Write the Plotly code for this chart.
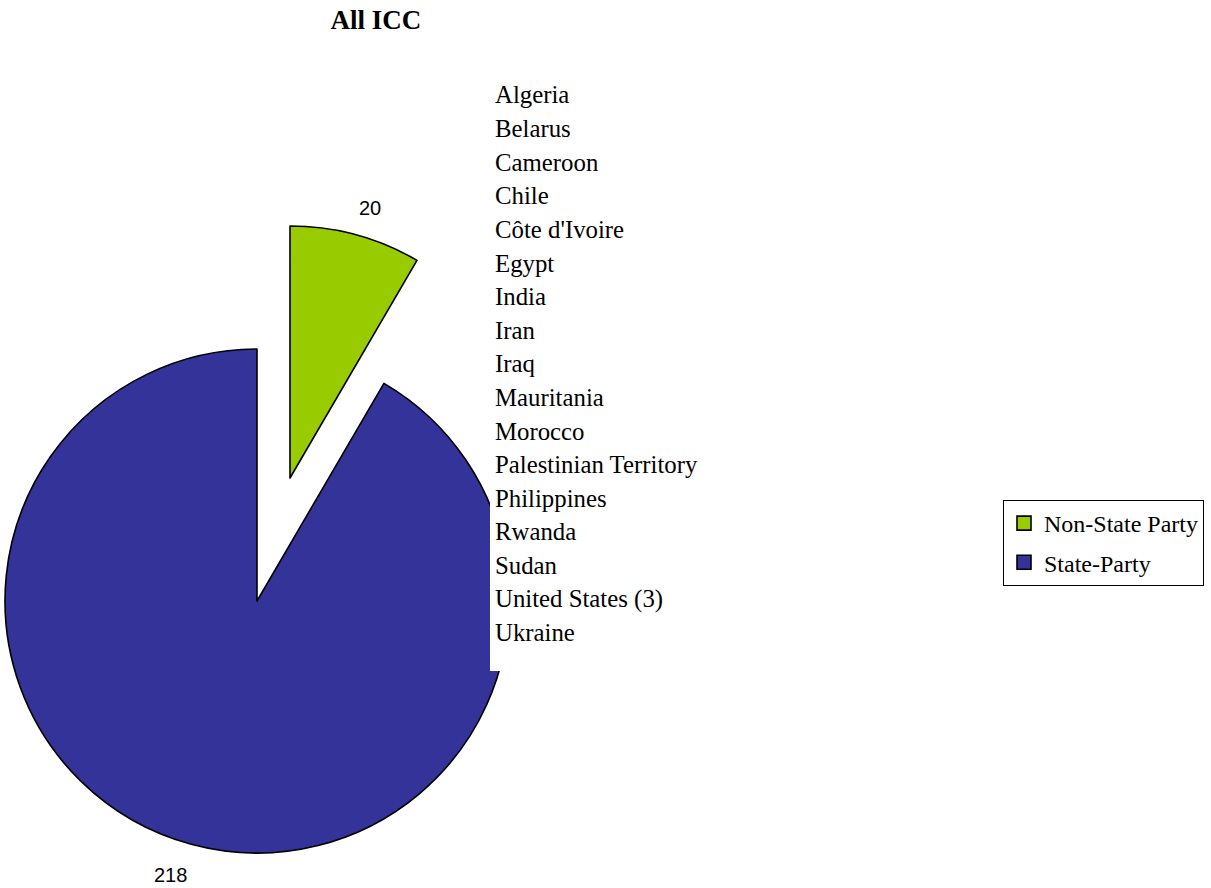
import plotly.graph_objects as go

# ICC cases split by party status
labels = ["Non-State Party", "State-Party"]
values = [20, 218]
colors = ["#99CC00", "#333399"]

# Countries listed in the side text box
countries = [
    "Algeria", "Belarus", "Cameroon", "Chile", "Côte d'Ivoire", "Egypt",
    "India", "Iran", "Iraq", "Mauritania", "Morocco", "Palestinian Territory",
    "Philippines", "Rwanda", "Sudan", "United States (3)", "Ukraine",
]

W, H = 1211, 888
CLEAR = "rgba(0,0,0,0)"
SERIF = "Liberation Serif"


def px_x(x):
    return x / W


def px_y(y):
    return 1 - y / H


def domain(cx, cy, r):
    return dict(x=[px_x(cx - r), px_x(cx + r)], y=[px_y(cy + r), px_y(cy - r)])


R = 252
main_center = (257, 601)
exploded_center = (290, 478)

fig = go.Figure()

# Exploded slice: its own pie offset from the main one, other slice hidden
fig.add_trace(go.Pie(
    labels=labels, values=values, sort=False, direction="clockwise", rotation=0,
    domain=domain(*exploded_center, R),
    marker=dict(colors=[colors[0], CLEAR], line=dict(color="black", width=[1.6, 0])),
    textinfo="none", showlegend=False, hoverinfo="skip",
))

# Remaining slice in place
fig.add_trace(go.Pie(
    labels=labels, values=values, sort=False, direction="clockwise", rotation=0,
    domain=domain(*main_center, R),
    marker=dict(colors=[CLEAR, colors[1]], line=dict(color="black", width=[0, 1.6])),
    textinfo="none", showlegend=False, hoverinfo="skip",
))

# Value labels outside each slice
label_pos = [(370, 208), (170, 875)]
for v, (lx, ly) in zip(values, label_pos):
    fig.add_annotation(
        x=px_x(lx), y=px_y(ly), xref="paper", yref="paper",
        xanchor="center", yanchor="middle", showarrow=False, text=str(v),
        font=dict(family="Arial", size=20, color="black"),
    )

# Legend entries
for i, (lab, col) in enumerate(zip(labels, colors)):
    fig.add_trace(go.Scatter(
        x=[None], y=[None], mode="markers", name=lab, legendgroup=f"g{i}",
        marker=dict(symbol="square", size=14, color=col, line=dict(color="black", width=1.6)),
    ))

# White text box over the pie with the country list
fig.add_shape(type="rect", xref="paper", yref="paper", layer="above",
              x0=px_x(490), x1=px_x(712), y0=px_y(671), y1=px_y(76),
              fillcolor="white", line=dict(width=0))

for i, name in enumerate(countries):
    fig.add_annotation(
        x=px_x(493), y=px_y(95 + 33.6 * i), xref="paper", yref="paper",
        xanchor="left", yanchor="middle", showarrow=False, text=name,
        font=dict(family=SERIF, size=24.8, color="black"),
    )

fig.update_layout(
    width=W, height=H,
    margin=dict(l=0, r=0, t=0, b=0),
    paper_bgcolor="white", plot_bgcolor="white",
    title=dict(text="<b>All ICC</b>", x=px_x(376), xanchor="center",
               y=px_y(20), yanchor="middle",
               font=dict(family=SERIF, size=27, color="black")),
    xaxis=dict(visible=False), yaxis=dict(visible=False),
    legend=dict(x=px_x(1003), y=px_y(500), xanchor="left", yanchor="top",
                bordercolor="black", borderwidth=1, bgcolor="white",
                font=dict(family=SERIF, size=24, color="black"),
                traceorder="grouped", tracegroupgap=5, itemwidth=30),
)

fig.write_html("out.html")
